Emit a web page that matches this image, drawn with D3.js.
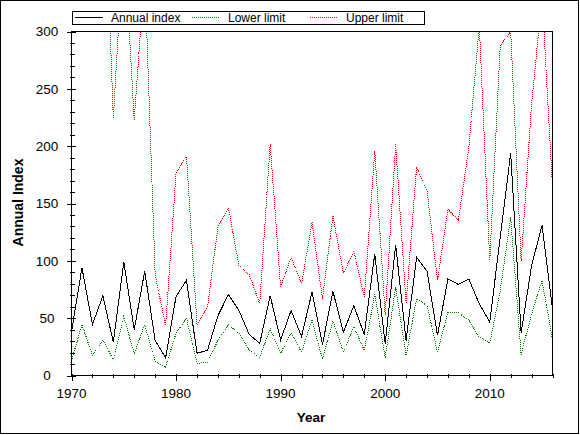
<!DOCTYPE html>
<html>
<head>
<meta charset="utf-8">
<script src="https://cdn.jsdelivr.net/npm/d3@7"></script>
<style>
  body { margin: 0; background: #fff; }
  svg { display: block; font-family: Arial, "Liberation Sans", sans-serif; }
</style>
</head>
<body>
<script>
// data
const years = d3.range(1970, 2017);
const annualIndex = [38, 94, 44.5, 69.5, 29, 99, 40, 91, 30.5, 15.4, 69, 83, 19.5, 21.8, 52, 70.6, 57, 35.7, 28, 69.5,
  31, 56.7, 34, 72.7, 27, 73.5, 37.8, 60.8, 35.7, 106, 27.6, 114, 30.5, 103, 91, 35, 84.3, 79.4, 84, 62.5,
  46.5, 120.6, 193.9, 37, 96, 130.8, 58];
const lowerLimit = [13, 44.5, 17.4, 31, 13.7, 51.5, 19, 44.5, 12.5, 7.3, 37, 50, 10.7, 11.3, 30.5, 44.5, 37, 21.8, 16, 40.7,
  19.5, 37, 20.3, 48.5, 14.5, 47.4, 20.3, 42.7, 21.8, 70.6, 15.4, 77, 17.4, 66.9, 61, 20.3, 54.7, 54.5, 48.5, 33.4,
  28.2, 74, 138, 18.3, 53.8, 82.8, 31];
const upperLimit = [330, 520, 360, 480, 224, 385, 223, 352, 88, 43, 177, 191, 44.5, 59.6, 129, 146.8, 96, 88, 62.5, 202,
  77, 103, 80, 133.7, 66.9, 139.5, 89, 108.4, 68.3, 195.6, 53, 201.5, 63, 181.7, 161, 83, 145, 135.8, 199, 305,
  100, 287.8, 300, 100, 237, 330, 165.7];

const xMajor = [1970, 1980, 1990, 2000, 2010];
const yMajor = [0, 50, 100, 150, 200, 250, 300];

const series = [
  { name: "Annual index", values: annualIndex, color: "#000000", dash: null },
  { name: "Lower limit", values: lowerLimit, color: "#008000", dash: "1,1" },
  { name: "Upper limit", values: upperLimit, color: "#ff0000", dash: "1,1" }
];

const width = 580, height = 435;
const x = d3.scaleLinear().domain([1970, 2016]).range([71.5, 552.5]);
const y = d3.scaleLinear().domain([0, 300]).range([375.5, 31.5]);

const svg = d3.select("body").append("svg")
  .attr("width", width)
  .attr("height", height);

// outer frame
svg.append("rect")
  .attr("x", 0.5).attr("y", 0.5)
  .attr("width", 578).attr("height", 433)
  .attr("fill", "none").attr("stroke", "#000");

svg.append("clipPath").attr("id", "plot")
  .append("rect")
  .attr("x", x(1970)).attr("y", y(300))
  .attr("width", x(2016) - x(1970)).attr("height", y(0) - y(300));

// lines
const line = d3.line()
  .x((d, i) => x(years[i]))
  .y(d => y(d));

svg.append("g").attr("clip-path", "url(#plot)")
  .selectAll("path")
  .data(series.slice().reverse())
  .enter()
  .append("path")
  .attr("d", d => line(d.values))
  .attr("fill", "none")
  .attr("stroke", d => d.color)
  .attr("stroke-width", 1)
  .attr("stroke-dasharray", d => d.dash)
  .attr("shape-rendering", "crispEdges");

// plot box
svg.append("rect")
  .attr("x", x(1970)).attr("y", y(300))
  .attr("width", x(2016) - x(1970)).attr("height", y(0) - y(300))
  .attr("fill", "none").attr("stroke", "#000")
  .attr("shape-rendering", "crispEdges");

// y ticks, they cross the axis
const yTicks = d3.range(0, 301, 10);
svg.append("g").selectAll("line")
  .data(yTicks)
  .enter()
  .append("line")
  .attr("x1", d => x(1970) - (d % 50 === 0 ? 5 : 2))
  .attr("x2", d => x(1970) + (d % 50 === 0 ? 4 : 3))
  .attr("y1", d => Math.round(y(d)) + 0.5)
  .attr("y2", d => Math.round(y(d)) + 0.5)
  .attr("stroke", "#000")
  .attr("shape-rendering", "crispEdges");

svg.append("g").selectAll("text")
  .data(yMajor)
  .enter()
  .append("text")
  .attr("x", 47)
  .attr("y", d => y(d))
  .attr("dy", "0.36em")
  .attr("text-anchor", "middle")
  .attr("font-size", "13.5px")
  .attr("fill", "#000")
  .text(d => d);

// x ticks
const xTicks = d3.range(1970, 2017, 2);
svg.append("g").selectAll("line")
  .data(xTicks)
  .enter()
  .append("line")
  .attr("x1", d => Math.round(x(d)) + 0.5)
  .attr("x2", d => Math.round(x(d)) + 0.5)
  .attr("y1", d => y(0) - 2)
  .attr("y2", d => y(0) + ((d - 1970) % 10 === 0 ? 5 : 2.5))
  .attr("stroke", "#000")
  .attr("shape-rendering", "crispEdges");

svg.append("g").selectAll("text")
  .data(xMajor)
  .enter()
  .append("text")
  .attr("x", d => x(d))
  .attr("y", 398)
  .attr("text-anchor", "middle")
  .attr("font-size", "13.5px")
  .attr("fill", "#000")
  .text(d => d);

// axis titles
svg.append("text")
  .attr("x", 311)
  .attr("y", 421.5)
  .attr("text-anchor", "middle")
  .attr("font-size", "13.5px")
  .attr("font-weight", "bold")
  .text("Year");

svg.append("text")
  .attr("transform", "translate(23,202.5) rotate(-90)")
  .attr("text-anchor", "middle")
  .attr("font-size", "14px")
  .attr("font-weight", "bold")
  .text("Annual Index");

// legend
const legend = svg.append("g");
legend.append("rect")
  .attr("x", 72.5).attr("y", 11.5)
  .attr("width", 352).attr("height", 13)
  .attr("fill", "#fff").attr("stroke", "#000")
  .attr("shape-rendering", "crispEdges");

const legendX = [75, 192, 310];
const item = legend.selectAll("g.item")
  .data(series)
  .enter()
  .append("g")
  .attr("class", "item")
  .attr("transform", (d, i) => "translate(" + legendX[i] + ",0)");

item.append("line")
  .attr("x1", 0).attr("x2", 28)
  .attr("y1", 17.5).attr("y2", 17.5)
  .attr("stroke", d => d.color)
  .attr("stroke-dasharray", d => d.dash)
  .attr("shape-rendering", "crispEdges");

item.append("text")
  .attr("x", 36)
  .attr("y", 22)
  .attr("font-size", "12px")
  .attr("fill", "#000")
  .text(d => d.name);
</script>
</body>
</html>
